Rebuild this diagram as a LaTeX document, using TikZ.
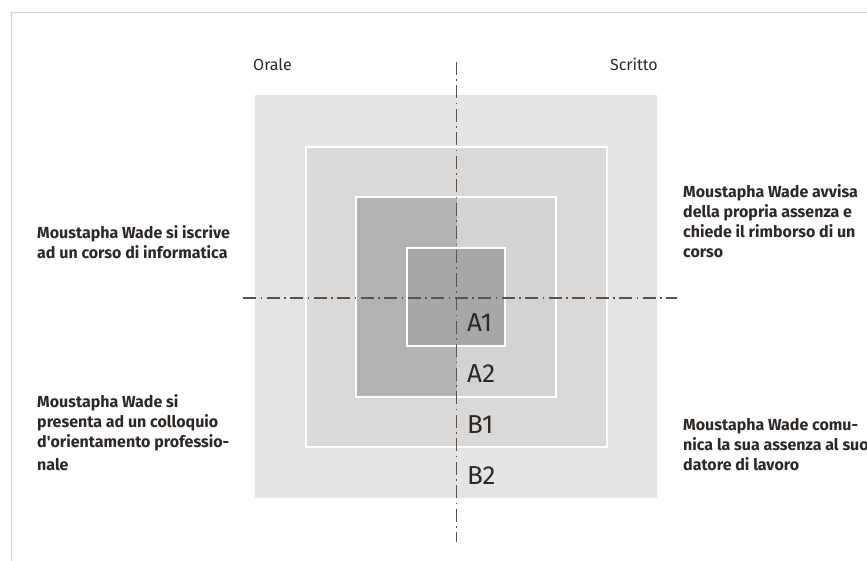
\documentclass[tikz,border=0pt]{standalone}
\usepackage{fontspec}
\setmainfont{Fira Sans}
\definecolor{framegray}{HTML}{CFCFCF}
\definecolor{axisgray}{HTML}{5A524D}
\definecolor{inkdark}{HTML}{2E2825}
\definecolor{zoneB2}{HTML}{E4E4E4}
\definecolor{zoneB1}{HTML}{DAD9D8}
\definecolor{zoneAoral}{HTML}{B2B2B2}
\definecolor{zoneAwrit}{HTML}{D3D3D3}
\definecolor{zoneA1}{HTML}{A7A7A7}
\begin{document}
\begin{tikzpicture}[x=1pt,y=-1pt,
  axis/.style={draw=axisgray, line width=1.1pt,
    dash pattern=on 13pt off 4.5pt on 1.5pt off 4.5pt},
  ring/.style={draw=white, line width=2pt},
  note/.style={anchor=north west, inner sep=0pt, align=left, text=inkdark,
    font=\bfseries\fontsize{16}{20}\selectfont},
  side/.style={inner sep=0pt, text=inkdark, font=\fontsize{16}{18}\selectfont},
  level/.style={anchor=base west, inner sep=0pt, text=inkdark,
    font=\fontsize{26}{30}\selectfont}]
\useasboundingbox (0,0) rectangle (867,561);
\fill[white] (0,0) rectangle (867,561);

% page frame
\draw[framegray, line width=1pt] (11,561) -- (11,13) -- (867,13);

% nested zones
\fill[zoneB2] (255,95) rectangle (657,498);
\filldraw[zoneB1, ring] (306,147) rectangle (607,447);
\fill[zoneAoral] (356,197) rectangle (456.7,397);
\fill[zoneAwrit] (456.7,197) rectangle (556,397);
\draw[ring] (356,197) rectangle (556,397);
\filldraw[zoneA1, ring] (407,248) rectangle (505,346);

% axes
\coordinate (vtop) at (456.7,62);
\coordinate (vbot) at (456.7,542);
\coordinate (hleft) at (243,298);
\coordinate (hright) at (677,298);
\draw[axis] (vtop) -- (vbot);
\draw[axis] (hleft) -- (hright);

% axis captions
\node[side, anchor=base west] (orale) at (253,71) {Orale};
\node[side, anchor=base east] (scritto) at (658,71) {Scritto};

% level labels
\node[level] (a1) at (467,331.5) {A1};
\node[level] (a2) at (467,382.7) {A2};
\node[level] (b1) at (467,433.5) {B1};
\node[level] (b2) at (467,484.5) {B2};

% examples
\node[note] (ex1) at (37,225.5) {Moustapha Wade si iscrive\\ad un corso di informatica};
\node[note] (ex2) at (37,394) {Moustapha Wade si\\presenta ad un colloquio\\d\textquotesingle orientamento professio-\\[3pt]nale};
\node[note] (ex3) at (683,184) {Moustapha Wade avvisa\\della propria assenza e\\chiede il rimborso di un\\corso};
\node[note] (ex4) at (683,418.5) {Moustapha Wade comu-\\nica la sua assenza al suo\\datore di lavoro};
\end{tikzpicture}
\end{document}
